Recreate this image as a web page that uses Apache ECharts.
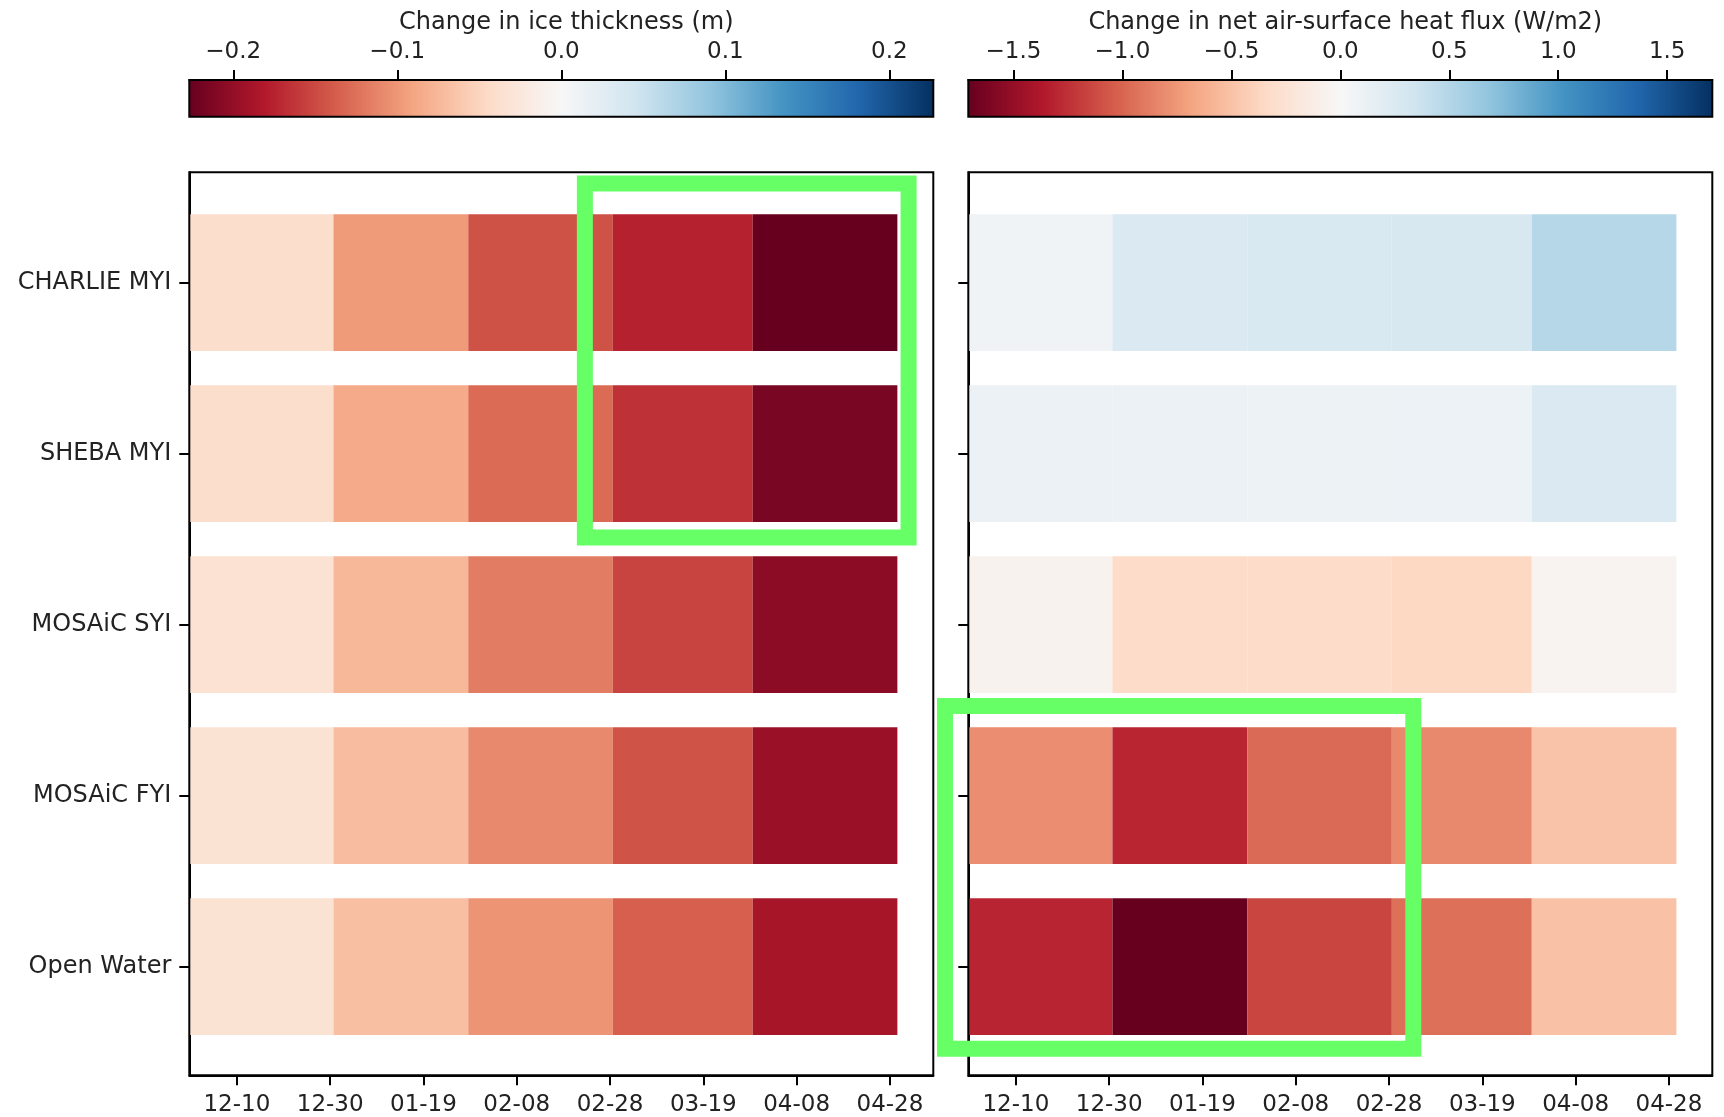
<!DOCTYPE html>
<html>
<head>
<meta charset="utf-8">
<style>
  html, body { margin: 0; padding: 0; background: #ffffff; }
  #chart { width: 1724px; height: 1117px; }
</style>
<script src="https://cdn.jsdelivr.net/npm/echarts@6/dist/echarts.min.js"></script>
</head>
<body>
<div id="chart"></div>
<script>
// ---------------- data ----------------
const rowNames = ['CHARLIE MYI', 'SHEBA MYI', 'MOSAiC SYI', 'MOSAiC FYI', 'Open Water'];

// time in days since 2019-12-10
const xTickDays = [0, 20, 40, 60, 80, 100, 120, 140];
const xTickLabels = ['12-10', '12-30', '01-19', '02-08', '02-28', '03-19', '04-08', '04-28'];
const periodEdges = [-10.2, 20.7, 49.6, 80.6, 110.6, 141.6];
const xRange = [-10.2, 149.3];

// Change in ice thickness (m), rows x periods
const iceThickness = [
  [-0.041, -0.098, -0.145, -0.176, -0.2268],
  [-0.040, -0.086, -0.129, -0.166, -0.216],
  [-0.034, -0.075, -0.118, -0.154, -0.204],
  [-0.033, -0.071, -0.109, -0.144, -0.196],
  [-0.033, -0.069, -0.102, -0.136, -0.188]
];
// Change in net air-surface heat flux (W/m2), rows x periods
const heatFlux = [
  [0.07, 0.26, 0.27, 0.29, 0.49],
  [0.11, 0.11, 0.09, 0.10, 0.25],
  [-0.06, -0.33, -0.32, -0.36, -0.05],
  [-0.80, -1.30, -0.975, -0.82, -0.49],
  [-1.31, -1.707, -1.152, -0.945, -0.50]
];

const iceLimit = 0.2268;
const fluxLimit = 1.707;
const iceTicks = [-0.2, -0.1, 0.0, 0.1, 0.2];
const iceTickLabels = ['\u22120.2', '\u22120.1', '0.0', '0.1', '0.2'];
const fluxTicks = [-1.5, -1.0, -0.5, 0.0, 0.5, 1.0, 1.5];
const fluxTickLabels = ['\u22121.5', '\u22121.0', '\u22120.5', '0.0', '0.5', '1.0', '1.5'];
const rowTicks = [0, 1, 2, 3, 4];
const yRange = [-0.645, 4.635];
const barHalfHeight = 0.4;

// highlight boxes: [xStart, xEnd, yTop, yBottom] in data units
const iceHighlight = [[74.6, 144.0, -0.58, 1.49]];
const fluxHighlight = [[-15.2, 85.2, 2.475, 4.48]];

const iceTitle = 'Change in ice thickness (m)';
const fluxTitle = 'Change in net air-surface heat flux (W/m2)';

// matplotlib RdBu
const rdBu = ['#67001f', '#b2182b', '#d6604d', '#f4a582', '#fddbc7', '#f7f7f7',
              '#d1e5f0', '#92c5de', '#4393c3', '#2166ac', '#053061'];

// ---------------- build ----------------
function cells(matrix) {
  const out = [];
  matrix.forEach((row, r) => {
    row.forEach((v, i) => out.push([periodEdges[i], periodEdges[i + 1], r, v]));
  });
  return out;
}
function labelFor(ticks, labels) {
  return function (v) {
    for (let i = 0; i < ticks.length; i++) if (Math.abs(ticks[i] - v) < 1e-6) return labels[i];
    return '';
  };
}

const FONT = 'DejaVu Sans';
const TXT = '#222222';
const tickStyle = { show: true, inside: false, length: 10, lineStyle: { color: '#000', width: 2 } };
const lineStyle = { show: true, onZero: false, lineStyle: { color: '#000', width: 2 } };

function cellRender(params, api) {
  const x0 = api.value(0), x1 = api.value(1), r = api.value(2);
  const p0 = api.coord([x0, r - barHalfHeight]);
  const p1 = api.coord([x1, r + barHalfHeight]);
  return {
    type: 'rect',
    shape: { x: Math.min(p0[0], p1[0]), y: Math.min(p0[1], p1[1]),
             width: Math.abs(p1[0] - p0[0]), height: Math.abs(p1[1] - p0[1]) },
    style: { fill: api.visual('color'), stroke: null }
  };
}
function boxRender(params, api) {
  const p0 = api.coord([api.value(0), api.value(2)]);
  const p1 = api.coord([api.value(1), api.value(3)]);
  return {
    type: 'rect',
    shape: { x: Math.min(p0[0], p1[0]), y: Math.min(p0[1], p1[1]),
             width: Math.abs(p1[0] - p0[0]), height: Math.abs(p1[1] - p0[1]) },
    style: { fill: 'none', stroke: '#66ff66', lineWidth: 16 }
  };
}
function colorbarRender(params, api) {
  const p0 = api.coord([api.value(0), 0]);
  const p1 = api.coord([api.value(1), 1]);
  const stops = rdBu.map((c, i) => ({ offset: i / (rdBu.length - 1), color: c }));
  return {
    type: 'rect',
    shape: { x: p0[0], y: p1[1], width: p1[0] - p0[0], height: p0[1] - p1[1] },
    style: { fill: new echarts.graphic.LinearGradient(0, 0, 1, 0, stops) }
  };
}

const PLOT_W = 744, PLOT_H = 903;
const LEFT1 = 189.3, LEFT2 = 968.3, TOP = 172.3;
const CB_TOP = 80, CB_H = 36.7;

const gridBase = { show: true, borderColor: '#000', borderWidth: 2, backgroundColor: 'transparent', z: 10, containLabel: false };

const option = {
  backgroundColor: '#ffffff',
  animation: false,
  textStyle: { fontFamily: FONT },
  title: [
    { text: iceTitle, left: LEFT1 + PLOT_W / 2, top: 6, textAlign: 'center',
      textStyle: { fontFamily: FONT, fontSize: 24, fontWeight: 'normal', color: TXT } },
    { text: fluxTitle, left: LEFT2 + PLOT_W / 2, top: 6, textAlign: 'center',
      textStyle: { fontFamily: FONT, fontSize: 24, fontWeight: 'normal', color: TXT } }
  ],
  grid: [
    Object.assign({ left: LEFT1, top: TOP, width: PLOT_W, height: PLOT_H }, gridBase),
    Object.assign({ left: LEFT2, top: TOP, width: PLOT_W, height: PLOT_H }, gridBase),
    Object.assign({ left: LEFT1, top: CB_TOP, width: PLOT_W, height: CB_H }, gridBase),
    Object.assign({ left: LEFT2, top: CB_TOP, width: PLOT_W, height: CB_H }, gridBase)
  ],
  xAxis: [0, 1].map(g => ({
    gridIndex: g, type: 'value', position: 'bottom', min: xRange[0], max: xRange[1],
    axisLine: lineStyle, splitLine: { show: false },
    axisTick: Object.assign({ customValues: xTickDays }, tickStyle),
    axisLabel: { customValues: xTickDays, formatter: labelFor(xTickDays, xTickLabels),
                 fontFamily: FONT, fontSize: 23, color: TXT, margin: 18 }
  })).concat([
    { gridIndex: 2, type: 'value', position: 'top', min: -iceLimit, max: iceLimit,
      axisLine: lineStyle, splitLine: { show: false },
      axisTick: Object.assign({ customValues: iceTicks }, tickStyle),
      axisLabel: { customValues: iceTicks, formatter: labelFor(iceTicks, iceTickLabels),
                   fontFamily: FONT, fontSize: 23, color: TXT, margin: 16 } },
    { gridIndex: 3, type: 'value', position: 'top', min: -fluxLimit, max: fluxLimit,
      axisLine: lineStyle, splitLine: { show: false },
      axisTick: Object.assign({ customValues: fluxTicks }, tickStyle),
      axisLabel: { customValues: fluxTicks, formatter: labelFor(fluxTicks, fluxTickLabels),
                   fontFamily: FONT, fontSize: 23, color: TXT, margin: 16 } }
  ]),
  yAxis: [
    { gridIndex: 0, type: 'value', position: 'left', inverse: true, min: yRange[0], max: yRange[1],
      axisLine: lineStyle, splitLine: { show: false },
      axisTick: Object.assign({ customValues: rowTicks }, tickStyle),
      axisLabel: { customValues: rowTicks, formatter: labelFor(rowTicks, rowNames),
                   fontFamily: FONT, fontSize: 24, color: TXT, margin: 18, padding: [10, 0, 0, 0] } },
    { gridIndex: 1, type: 'value', position: 'left', inverse: true, min: yRange[0], max: yRange[1],
      axisLine: lineStyle, splitLine: { show: false },
      axisTick: Object.assign({ customValues: rowTicks }, tickStyle),
      axisLabel: { show: false } },
    { gridIndex: 2, type: 'value', min: 0, max: 1, show: false },
    { gridIndex: 3, type: 'value', min: 0, max: 1, show: false }
  ],
  visualMap: [
    { type: 'continuous', show: false, seriesIndex: 0, dimension: 3,
      min: -iceLimit, max: iceLimit, inRange: { color: rdBu } },
    { type: 'continuous', show: false, seriesIndex: 1, dimension: 3,
      min: -fluxLimit, max: fluxLimit, inRange: { color: rdBu } }
  ],
  series: [
    { type: 'custom', xAxisIndex: 0, yAxisIndex: 0, z: 2, renderItem: cellRender,
      encode: { x: [0, 1], y: 2 }, data: cells(iceThickness) },
    { type: 'custom', xAxisIndex: 1, yAxisIndex: 1, z: 2, renderItem: cellRender,
      encode: { x: [0, 1], y: 2 }, data: cells(heatFlux) },
    { type: 'custom', xAxisIndex: 2, yAxisIndex: 2, z: 2, renderItem: colorbarRender,
      encode: { x: [0, 1] }, data: [[-iceLimit, iceLimit]] },
    { type: 'custom', xAxisIndex: 3, yAxisIndex: 3, z: 2, renderItem: colorbarRender,
      encode: { x: [0, 1] }, data: [[-fluxLimit, fluxLimit]] },
    { type: 'custom', xAxisIndex: 0, yAxisIndex: 0, z: 20, clip: false, renderItem: boxRender,
      encode: { x: [0, 1], y: [2, 3] }, data: iceHighlight },
    { type: 'custom', xAxisIndex: 1, yAxisIndex: 1, z: 20, clip: false, renderItem: boxRender,
      encode: { x: [0, 1], y: [2, 3] }, data: fluxHighlight }
  ]
};

const chart = echarts.init(document.getElementById('chart'), null, { renderer: 'canvas' });
chart.setOption(option);
</script>
</body>
</html>
